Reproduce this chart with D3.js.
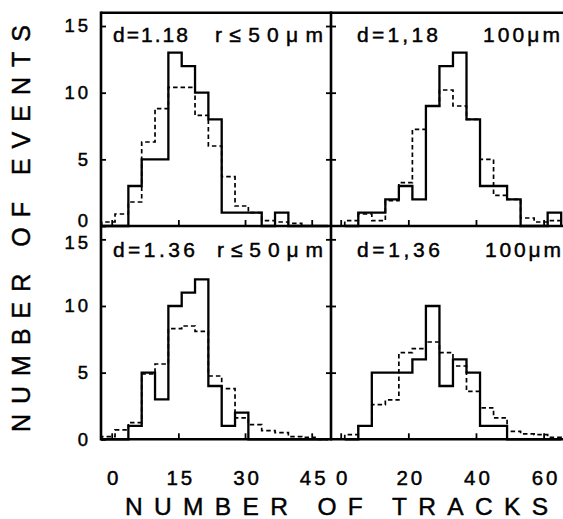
<!DOCTYPE html>
<html>
<head>
<meta charset="utf-8">
<script src="https://cdn.jsdelivr.net/npm/d3@7"></script>
<style>
  html, body { margin: 0; padding: 0; background: #fff; }
  svg { display: block; }
  text { font-family: "Liberation Sans", Arial, sans-serif; fill: #000; stroke: #000; stroke-width: 0.45px; }
</style>
</head>
<body>
<div id="chart"></div>
<script>
// ---------------- data ----------------
// Left panels: bins of 3 tracks; right panels: bins of 4 tracks
const leftBinStart = -2.25, leftBinWidth = 3;
const rightBinStart = 1.2, rightBinWidth = 4;

// d = 1.18, r <= 50 um
const tlSolid  = [0, 0, 3, 5, 5, 13, 12, 10, 8, 1, 1, 1, 0, 1, 0, 0, 0];
const tlDashed = [0.3, 0.9, 1.8, 6.3, 8.8, 10.4, 10.4, 8.3, 6.0, 3.7, 1.5, 1.0, 0.4, 0.3, 0.2, 0, 0];
// d = 1.18, 100 um
const trSolid  = [0, 1, 1, 2, 3, 2, 9, 12, 13, 8, 3, 3, 2, 0, 0, 1];
const trDashed = [0.4, 0.9, 0.4, 1.9, 3.25, 7.25, 9.0, 10.2, 9.0, 8.0, 5.0, 2.3, 2.0, 0.6, 0.3, 0.4];
// d = 1.36, r <= 50 um
const blSolid  = [0, 0, 1, 5, 3, 10, 11, 12, 4, 1, 2, 0, 0, 0, 0, 0, 0];
const blDashed = [0.2, 0.7, 1.25, 4.9, 5.65, 8.3, 8.5, 8.1, 4.75, 3.8, 1.6, 1.1, 0.65, 0.5, 0.2, 0.15, 0];
// d = 1.36, 100 um
const brSolid  = [0, 1, 5, 5, 5, 6, 10, 4, 6, 5, 1, 1, 0, 0, 0, 0];
const brDashed = [0.35, 1.0, 2.6, 2.95, 6.5, 6.8, 7.3, 6.5, 5.5, 3.6, 2.35, 1.6, 0.6, 0.4, 0.35, 0.15];

const yTicks = [0, 5, 10, 15];
const xTicksLeft = [0, 15, 30, 45];
const xTicksRight = [0, 20, 40, 60];

const labelsTop = ["d=1.18", "r≤50μm", "d=1,18", "100μm"];
const labelsBottom = ["d=1.36", "r≤50μm", "d=1,36", "100μm"];
const yTitle = "NUMBER OF EVENTS";
const xTitle = "NUMBER OF TRACKS";

// ---------------- layout ----------------
const W = 563, H = 519;
const svg = d3.select("#chart").append("svg").attr("width", W).attr("height", H);

const xL = d3.scaleLinear().domain([0, 45]).range([111.7, 311.7]);
const xR = d3.scaleLinear().domain([0, 60]).range([340.7, 543.6]);
const yT = d3.scaleLinear().domain([0, 16]).range([226, 12.7]);
const yB = d3.scaleLinear().domain([0, 16]).range([439.3, 226]);

const frameL = 101, frameM = 331, frameR = 575;

function stepPoints(start, width, vals, x, y) {
  const pts = [[x(start), y(0)]];
  vals.forEach((v, i) => {
    pts.push([x(start + i * width), y(v)]);
    pts.push([x(start + (i + 1) * width), y(v)]);
  });
  pts.push([x(start + vals.length * width), y(0)]);
  return pts;
}
const line = d3.line();

function hist(vals, start, width, x, y, dashed) {
  svg.append("path")
    .attr("d", line(stepPoints(start, width, vals, x, y)))
    .attr("fill", "none")
    .attr("stroke", "#000")
    .attr("stroke-width", dashed ? 1.7 : 2.3)
    .attr("stroke-linejoin", "miter")
    .attr("stroke-dasharray", dashed ? "4.5,3" : null);
}

// dashed first, solid on top
hist(tlDashed, leftBinStart, leftBinWidth, xL, yT, true);
hist(trDashed, rightBinStart, rightBinWidth, xR, yT, true);
hist(blDashed, leftBinStart, leftBinWidth, xL, yB, true);
hist(brDashed, rightBinStart, rightBinWidth, xR, yB, true);
hist(tlSolid, leftBinStart, leftBinWidth, xL, yT, false);
hist(trSolid, rightBinStart, rightBinWidth, xR, yT, false);
hist(blSolid, leftBinStart, leftBinWidth, xL, yB, false);
hist(brSolid, rightBinStart, rightBinWidth, xR, yB, false);

// ---------------- frames ----------------
const fr = svg.append("g").attr("stroke", "#000").attr("stroke-width", 2.6).attr("fill", "none");
fr.append("line").attr("x1", frameL).attr("x2", frameR).attr("y1", yT(16)).attr("y2", yT(16));
fr.append("line").attr("x1", frameL).attr("x2", frameR).attr("y1", yT(0)).attr("y2", yT(0));
fr.append("line").attr("x1", frameL).attr("x2", frameR).attr("y1", yB(0)).attr("y2", yB(0));
fr.append("line").attr("x1", frameL).attr("x2", frameL).attr("y1", yT(16) - 1.3).attr("y2", yB(0) + 1.3);
fr.append("line").attr("x1", frameM).attr("x2", frameM).attr("y1", yT(16) - 1.3).attr("y2", yB(0) + 1.3);

// ---------------- axes ----------------
function styleAxis(g, fontSize, ls) {
  g.select(".domain").remove();
  g.selectAll(".tick line").attr("stroke", "#000").attr("stroke-width", 1.8);
  g.selectAll(".tick text")
    .attr("fill", "#000")
    .style("font-family", '"Liberation Sans", Arial, sans-serif')
    .style("font-size", fontSize + "px")
    .style("letter-spacing", ls + "px");
}

// y axes (left, inward ticks with labels)
[[yT, "top"], [yB, "bottom"]].forEach(([y, which]) => {
  const g = svg.append("g").attr("transform", `translate(${frameL},0)`)
    .call(d3.axisLeft(y).tickValues(yTicks).tickSizeInner(-5).tickSizeOuter(0).tickPadding(13).tickFormat(d3.format("d")));
  styleAxis(g, 18.5, 3);
  g.selectAll(".tick text").attr("dx", 3);
  if (which === "top") g.selectAll(".tick").filter(d => d === 0).select("text").attr("dy", "-0.0em");
  if (which === "bottom") g.selectAll(".tick").filter(d => d === 15).select("text").attr("dy", "0.52em");
  // divider ticks crossing the middle line
  const m = svg.append("g").attr("transform", `translate(${frameM},0)`)
    .call(d3.axisRight(y).tickValues(yTicks.filter(v => v > 0)).tickSizeInner(5).tickSizeOuter(0).tickFormat(""));
  styleAxis(m, 10, 0);
  m.selectAll(".tick line").attr("x1", -5);
});

// x axes: upward ticks on both panels; labels on bottom only
[[xL, xTicksLeft], [xR, xTicksRight]].forEach(([x, tv]) => {
  const gt = svg.append("g").attr("transform", `translate(0,${yT(0)})`)
    .call(d3.axisBottom(x).tickValues(tv).tickSizeInner(-6).tickSizeOuter(0).tickFormat(""));
  styleAxis(gt, 10, 0);
  const gb = svg.append("g").attr("transform", `translate(0,${yB(0)})`)
    .call(d3.axisBottom(x).tickValues(tv).tickSizeInner(-6).tickSizeOuter(0).tickPadding(31).tickFormat(d3.format("d")));
  styleAxis(gb, 20.5, 3);
  gb.selectAll(".tick text").attr("dx", 2);
});

// ---------------- panel labels ----------------
function label(txt, x, y, len) {
  svg.append("text").attr("x", x).attr("y", y)
    .attr("textLength", len).attr("lengthAdjust", "spacing")
    .style("font-size", "21px").text(txt);
}
label(labelsTop[0], 113, 41.5, 75);
label(labelsTop[1], 215, 41.5, 108);
label(labelsTop[2], 357, 41.5, 81);
label(labelsTop[3], 483, 41.5, 77);
label(labelsBottom[0], 113, 256.5, 82);
label(labelsBottom[1], 217, 256.5, 106);
label(labelsBottom[2], 357, 256.5, 83);
label(labelsBottom[3], 485, 256.5, 76);

// ---------------- axis titles ----------------
svg.append("text")
  .attr("transform", "translate(30,228.5) rotate(-90)")
  .attr("text-anchor", "middle")
  .attr("textLength", 407).attr("lengthAdjust", "spacing")
  .style("font-size", "25px")
  .text(yTitle);

svg.append("text")
  .attr("x", 336.5).attr("y", 514.5)
  .attr("text-anchor", "middle")
  .attr("textLength", 423).attr("lengthAdjust", "spacing")
  .style("font-size", "24.5px")
  .text(xTitle);
</script>
</body>
</html>
